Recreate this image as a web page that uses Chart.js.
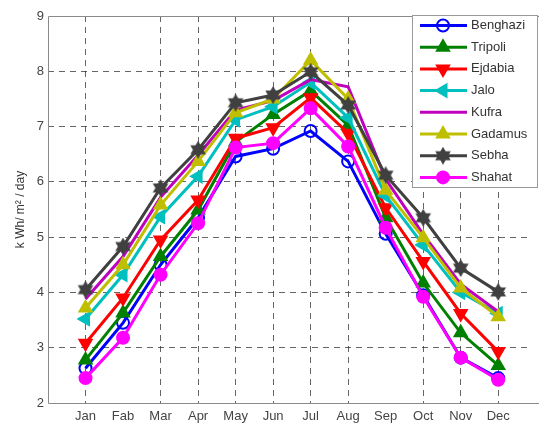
<!DOCTYPE html>
<html>
<head>
<meta charset="utf-8">
<script src="https://cdn.jsdelivr.net/npm/chart.js@4.4.1/dist/chart.umd.min.js"></script>
<style>
  html, body { margin: 0; padding: 0; background: #fff; overflow: hidden; }
  canvas { display: block; }
</style>
</head>
<body>
<canvas id="myChart" width="539" height="425"></canvas>
<script>
const months = ['Jan', 'Fab', 'Mar', 'Apr', 'May', 'Jun', 'Jul', 'Aug', 'Sep', 'Oct', 'Nov', 'Dec'];
const yTicks = [2, 3, 4, 5, 6, 7, 8, 9];

const benghazi = [2.63, 3.45, 4.50, 5.35, 6.46, 6.60, 6.92, 6.37, 5.06, 3.95, 2.82, 2.45];
const tripoli  = [2.78, 3.63, 4.65, 5.49, 6.72, 7.22, 7.65, 7.02, 5.35, 4.17, 3.27, 2.68];
const ejdabia  = [3.08, 3.90, 4.95, 5.67, 6.79, 6.98, 7.52, 6.88, 5.53, 4.56, 3.62, 2.93];
const jalo     = [3.52, 4.32, 5.37, 6.10, 7.12, 7.36, 7.80, 7.16, 5.75, 4.86, 4.00, 3.62];
const kufra    = [3.88, 4.65, 5.72, 6.48, 7.30, 7.47, 7.85, 7.72, 6.05, 5.05, 4.15, 3.65];
const gadamus  = [3.72, 4.50, 5.58, 6.37, 7.25, 7.50, 8.20, 7.50, 5.85, 4.99, 4.08, 3.56];
const sebha    = [4.05, 4.83, 5.89, 6.58, 7.43, 7.57, 7.99, 7.39, 6.12, 5.35, 4.44, 4.01];
const shahat   = [2.45, 3.18, 4.32, 5.25, 6.62, 6.70, 7.33, 6.64, 5.17, 3.92, 2.82, 2.42];

// filled six point star for Sebha
function hexagram(size, color){
    const c = document.createElement('canvas');
    c.width = size; c.height = size;
    const g = c.getContext('2d');
    const r = size / 2;
    g.fillStyle = color;
    [-90, 90].forEach(start => {
        g.beginPath();
        for (let k = 0; k < 3; k++) {
            const a = (start + k * 120) * Math.PI / 180;
            const px = r + Math.cos(a) * r, py = r + Math.sin(a) * r;
            if (k === 0) g.moveTo(px, py); else g.lineTo(px, py);
        }
        g.closePath();
        g.fill();
    });
    return c;
}

const series = [
    {label: 'Benghazi', values: benghazi, color: '#0000ff', style: 'circle',   rot: 0,   radius: 6, fill: 'rgba(0,0,0,0)'},
    {label: 'Tripoli',  values: tripoli,  color: '#008000', style: 'triangle', rot: 0,   radius: 7},
    {label: 'Ejdabia',  values: ejdabia,  color: '#ff0000', style: 'triangle', rot: 180, radius: 7},
    {label: 'Jalo',     values: jalo,     color: '#00bfbf', style: 'triangle', rot: 270, radius: 7},
    {label: 'Kufra',    values: kufra,    color: '#bf00bf', style: 'circle',   rot: 0,   radius: 0},
    {label: 'Gadamus',  values: gadamus,  color: '#bfbf00', style: 'triangle', rot: 0,   radius: 7},
    {label: 'Sebha',    values: sebha,    color: '#404040', style: hexagram(18, '#404040'), rot: 0, radius: 8},
    {label: 'Shahat',   values: shahat,   color: '#ff00ff', style: 'circle',   rot: 0,   radius: 6}
];

const datasets = series.map((s, i) => ({
    label: s.label,
    data: s.values.map((v, j) => ({x: j + 1, y: v})),
    borderColor: s.color,
    backgroundColor: s.color,
    pointBackgroundColor: s.fill || s.color,
    pointBorderColor: s.color,
    pointBorderWidth: 2,
    pointStyle: s.style,
    pointRotation: s.rot,
    pointRadius: s.radius,
    borderWidth: 3,
    tension: 0,
    fill: false,
    order: series.length - i
}));

const gridColor = ctx => (ctx.tick && (ctx.tick.value === 2 || ctx.tick.value === 9 || ctx.tick.value === 0)) ? 'rgba(0,0,0,0)' : 'rgba(50,50,50,0.75)';

// plot frame: left, top and bottom only, the right side is cut off in the source image
const boxPlugin = {
    id: 'box',
    afterDraw(chart){
        const {ctx, chartArea: a} = chart;
        ctx.save();
        ctx.strokeStyle = '#8a8a8a';
        ctx.lineWidth = 1;
        ctx.beginPath();
        ctx.moveTo(chart.width, a.top + 0.5);
        ctx.lineTo(a.left + 0.5, a.top + 0.5);
        ctx.lineTo(a.left + 0.5, a.bottom + 0.5);
        ctx.lineTo(chart.width, a.bottom + 0.5);
        ctx.stroke();
        ctx.restore();
    }
};

// legend inside the plot, top right
const legendPlugin = {
    id: 'innerLegend',
    afterDraw(chart){
        const ctx = chart.ctx;
        ctx.save();
        ctx.fillStyle = '#fff';
        ctx.fillRect(412, 15, 126, 172);
        ctx.strokeStyle = '#999';
        ctx.lineWidth = 1;
        ctx.strokeRect(412.5, 15.5, 125, 172);
        series.forEach((s, i) => {
            const y = 25.5 + i * 21.7;
            ctx.strokeStyle = s.color;
            ctx.lineWidth = 3;
            ctx.beginPath();
            ctx.moveTo(420, y); ctx.lineTo(467, y);
            ctx.stroke();
            if (s.radius > 0) {
                ctx.fillStyle = s.fill || s.color;
                ctx.lineWidth = 2;
                Chart.helpers.drawPoint(ctx, {pointStyle: s.style, rotation: s.rot, radius: s.radius, borderWidth: 2}, 443, y);
            }
            ctx.fillStyle = '#333';
            ctx.font = '13px "Liberation Sans", Arial, sans-serif';
            ctx.textBaseline = 'middle';
            ctx.textAlign = 'left';
            ctx.fillText(s.label, 471, y);
        });
        ctx.restore();
    }
};

window.addEventListener('load', () => {
    const ctx = document.getElementById('myChart').getContext('2d');
    new Chart(ctx, {
        type: 'line',
        data: {datasets: datasets},
        options: {
            responsive: false,
            animation: false,
            layout: {padding: {top: 16, right: 0, left: 0, bottom: 0}},
            plugins: {legend: {display: false}, tooltip: {enabled: false}},
            scales: {
                x: {
                    type: 'linear',
                    min: 0,
                    max: 12.82,
                    afterBuildTicks: scale => { scale.ticks = months.map((m, i) => ({value: i + 1})); },
                    afterFit: scale => { scale.height = 22; },
                    ticks: {
                        autoSkip: false,
                        maxRotation: 0,
                        padding: 6,
                        color: '#444',
                        font: {family: '"Liberation Sans", Arial, sans-serif', size: 13},
                        callback: v => months[v - 1] || ''
                    },
                    grid: {color: gridColor, drawTicks: false, lineWidth: 1},
                    border: {display: false, dash: [6, 5]}
                },
                y: {
                    min: 2,
                    max: 9,
                    afterBuildTicks: scale => { scale.ticks = yTicks.map(v => ({value: v})); },
                    afterFit: scale => { scale.width = 48; },
                    ticks: {
                        padding: 4,
                        color: '#444',
                        font: {family: '"Liberation Sans", Arial, sans-serif', size: 13}
                    },
                    grid: {color: gridColor, drawTicks: false, lineWidth: 1},
                    border: {display: false, dash: [6, 5]},
                    title: {
                        display: true,
                        text: 'k Wh/ m\u00B2 / day',
                        color: '#333',
                        padding: {top: 13, bottom: 0},
                        font: {family: '"Liberation Sans", Arial, sans-serif', size: 12}
                    }
                }
            }
        },
        plugins: [boxPlugin, legendPlugin]
    });
});
</script>
</body>
</html>
